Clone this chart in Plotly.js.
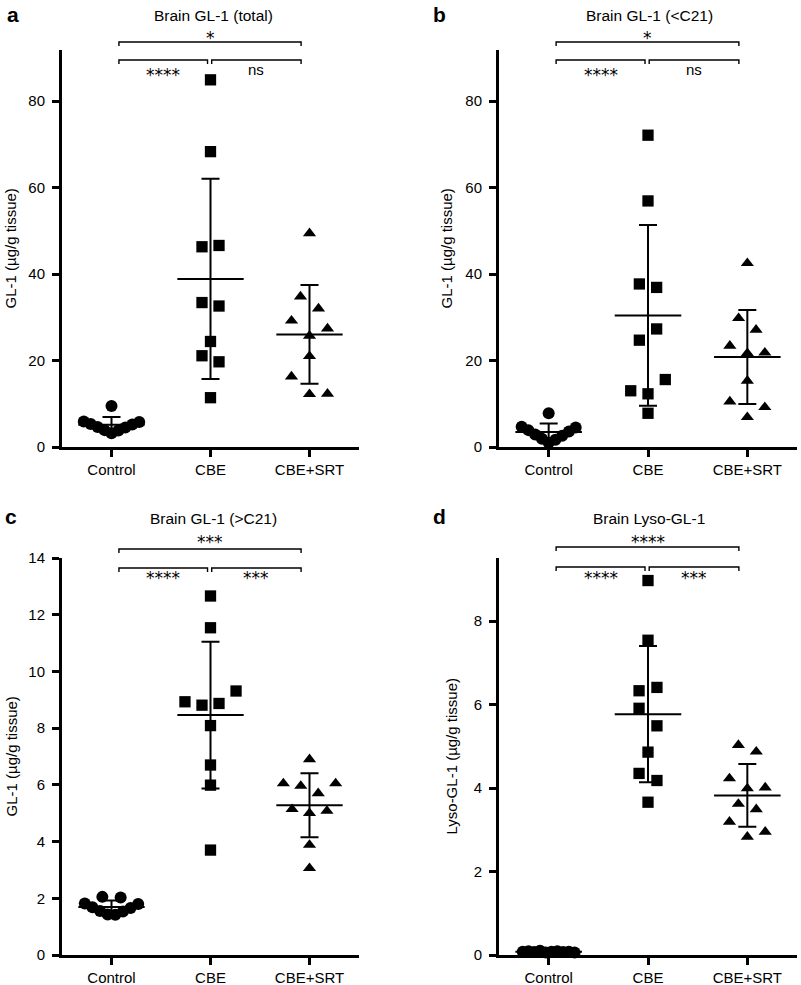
<!DOCTYPE html>
<html>
<head>
<meta charset="utf-8">
<script src="https://cdn.plot.ly/plotly-3.0.1.min.js"></script>
<style>html,body{margin:0;padding:0;background:#fff;}</style>
</head>
<body>
<div id="chart" style="width:801px;height:985px;"></div>
<script>
// ---------------- DATA ----------------
const categories = ['Control', 'CBE', 'CBE+SRT'];
const panelTitles = ['Brain GL-1 (total)', 'Brain GL-1 (&lt;C21)', 'Brain GL-1 (&gt;C21)', 'Brain Lyso-GL-1'];
const panelLetters = ['a', 'b', 'c', 'd'];
const yTitles = ['GL-1 (µg/g tissue)', 'GL-1 (µg/g tissue)', 'GL-1 (µg/g tissue)', 'Lyso-GL-1 (µg/g tissue)'];

// a: Brain GL-1 (total), µg/g tissue
const totalControl = [9.5, 5.9, 5.3, 4.6, 3.9, 3.2, 3.8, 4.5, 5.2, 5.8];
const totalCBE     = [84.9, 68.3, 46.3, 46.6, 33.4, 32.6, 24.4, 21.1, 19.7, 11.4];
const totalCBESRT  = [49.4, 34.8, 32.0, 29.2, 27.4, 25.7, 21.0, 16.3, 12.2, 12.3];
// b: Brain GL-1 (<C21)
const shortControl = [7.8, 4.7, 3.9, 2.9, 1.9, 1.0, 1.7, 2.6, 3.6, 4.5];
const shortCBE     = [72.1, 56.9, 37.7, 36.9, 27.3, 24.7, 15.6, 13.0, 12.3, 7.8];
const shortCBESRT  = [42.5, 29.8, 27.1, 23.4, 21.7, 21.8, 15.3, 10.5, 9.2, 6.9];
// c: Brain GL-1 (>C21)
const longControl  = [2.05, 2.03, 1.82, 1.68, 1.55, 1.43, 1.42, 1.53, 1.66, 1.80];
const longCBE      = [12.66, 11.54, 9.31, 8.93, 8.87, 8.81, 8.09, 6.70, 5.99, 3.70];
const longCBESRT   = [6.90, 6.05, 5.96, 6.05, 5.70, 5.14, 5.00, 5.08, 3.88, 3.06];
// d: Brain Lyso-GL-1
const lysoControl  = [0.08, 0.09, 0.07, 0.10, 0.06, 0.08, 0.09, 0.07, 0.08, 0.06];
const lysoCBE      = [8.97, 7.54, 6.33, 6.41, 5.91, 5.49, 4.86, 4.35, 4.18, 3.66];
const lysoCBESRT   = [5.03, 4.87, 4.23, 3.99, 4.01, 3.62, 3.49, 3.19, 2.83, 2.95];

// significance labels for comparisons: [Control vs CBE, CBE vs CBE+SRT, Control vs CBE+SRT]
const sigTotal = ['****', 'ns', '*'];
const sigShort = ['****', 'ns', '*'];
const sigLong  = ['****', '***', '***'];
const sigLyso  = ['****', '***', '****'];
const comparisons = [[0, 1], [1, 2], [0, 2]];

// y tick settings
const yRanges = [[0, 91.8], [0, 91.8], [0, 14], [0, 9.51]];
const yDticks = [20, 20, 2, 2];

// ---------------- LAYOUT / STYLE (scatter-dot horizontal spread slots) ----------------
const spreadTotal = [[0,-4,-3,-2,-1,0,1,2,3,4], [0,0,-1,1,-1,1,0,-1,1,0], [0,-1,1,-2,2,0,0,-2,0,2]];
const spreadShort = [[0,-4,-3,-2,-1,0,1,2,3,4], [0,0,-1,1,1,-1,2,-2,0,0], [0,-1,1,-2,0,2,0,-2,2,0]];
const spreadLong  = [[-1.2,1.2,-3.5,-2.5,-1.5,-0.5,0.5,1.5,2.5,3.5], [0,0,3,-3,1,-1,0,0,0,0], [0,-3,-1,3,1,-2,0,2,0,0]];
const spreadLyso  = [[-4.5,-3.5,-2.5,-1.5,-0.5,0.5,1.5,2.5,3.5,4.5], [0,0,-1,1,-1,1,0,-1,1,0], [-1,1,-2,0,2,-1,1,-2,0,2]];
const spreadSteps = [[0.07,0.086,0.091], [0.068,0.087,0.088], [0.077,0.086,0.088], [0.058,0.09,0.09]];

const W = 801, H = 985;
const FONT = '"Liberation Sans", Arial, Helvetica, sans-serif';
const STARFONT = '"DejaVu Sans", sans-serif';
const symbols = ['circle', 'square', 'triangle-up'];
const markerSizes = [12, 11.3, 11.5];

const panels = [
  {groups:[totalControl,totalCBE,totalCBESRT], spread:spreadTotal, sig:sigTotal,
   x0:62, x1:359, yt:50, yb:447, brTop:42, brLow:60, txTop:33, txLow:70, ytX:10, letX:13, letY:14.5, titX:213.5, titY:15},
  {groups:[shortControl,shortCBE,shortCBESRT], spread:spreadShort, sig:sigShort,
   x0:499, x1:797, yt:50, yb:447, brTop:42, brLow:60, txTop:33, txLow:70, ytX:446, letX:439, letY:14.5, titX:649, titY:15},
  {groups:[longControl,longCBE,longCBESRT], spread:spreadLong, sig:sigLong,
   x0:62, x1:359, yt:558, yb:955, brTop:549, brLow:568, txTop:537, txLow:573, ytX:11, letX:11, letY:516.7, titX:213.5, titY:518.5},
  {groups:[lysoControl,lysoCBE,lysoCBESRT], spread:spreadLyso, sig:sigLyso,
   x0:499, x1:797, yt:558, yb:955, brTop:547, brLow:567, txTop:537, txLow:573, ytX:451, letX:439, letY:516.7, titX:649, titY:518.5}
];

function mean(a){ return a.reduce((s,v)=>s+v,0)/a.length; }
function sd(a){ const m = mean(a); return Math.sqrt(a.reduce((s,v)=>s+(v-m)*(v-m),0)/(a.length-1)); }
const py = v => 1 - v / H;
const px = v => v / W;

const traces = [];
const shapes = [];
const annotations = [];
const layout = {
  width: W, height: H,
  margin: {l:0, r:0, t:0, b:0},
  paper_bgcolor: '#fff', plot_bgcolor: '#fff',
  showlegend: false,
  font: {family: FONT, size: 15, color: '#000'}
};

panels.forEach((p, k) => {
  const xid = 'x' + (k ? k + 1 : '');
  const yid = 'y' + (k ? k + 1 : '');
  const xkey = 'xaxis' + (k ? k + 1 : '');
  const ykey = 'yaxis' + (k ? k + 1 : '');

  layout[xkey] = {
    domain: [px(p.x0), px(p.x1)], anchor: yid, range: [-0.5, 2.5],
    tickmode: 'array', tickvals: [0, 1, 2], ticktext: categories,
    showline: true, linewidth: 3, linecolor: '#000',
    ticks: 'outside', ticklen: 7, tickwidth: 3, tickcolor: '#000',
    showgrid: false, zeroline: false, fixedrange: true,
    tickfont: {family: FONT, size: 15, color: '#000'}
  };
  layout[ykey] = {
    domain: [py(p.yb), py(p.yt)], anchor: xid, range: yRanges[k],
    tick0: 0, dtick: yDticks[k],
    showline: true, linewidth: 3, linecolor: '#000',
    ticks: 'outside', ticklen: 7, tickwidth: 3, tickcolor: '#000',
    ticklabelstandoff: 4,
    showgrid: false, zeroline: false, fixedrange: true,
    tickfont: {family: FONT, size: 15, color: '#000'}
  };

  // points
  p.groups.forEach((vals, g) => {
    const step = spreadSteps[k][g];
    traces.push({
      type: 'scatter', mode: 'markers', xaxis: xid, yaxis: yid,
      x: vals.map((v, i) => g + p.spread[g][i] * step),
      y: vals,
      cliponaxis: false,
      marker: {symbol: symbols[g], size: markerSizes[g], color: '#000', line: {width: 0}},
      hoverinfo: 'y'
    });
  });

  // mean lines
  const mx = [], my = [];
  p.groups.forEach((vals, g) => {
    const m = mean(vals);
    mx.push(g - 0.335, g + 0.335, null);
    my.push(m, m, null);
  });
  traces.push({type:'scatter', mode:'lines', xaxis: xid, yaxis: yid, x: mx, y: my,
    line: {color:'#000', width: 2}, hoverinfo:'skip', cliponaxis:false});

  // SD error bars
  traces.push({type:'scatter', mode:'markers', xaxis: xid, yaxis: yid,
    x: [0, 1, 2], y: p.groups.map(mean),
    marker: {size: 1, color: 'rgba(0,0,0,0)'},
    error_y: {type:'data', array: p.groups.map(sd), visible: true, symmetric: true,
      color:'#000', thickness: 2, width: 9},
    cliponaxis: false, hoverinfo:'skip'});

  // significance brackets
  comparisons.forEach((c, j) => {
    const isTop = j === 2;
    const yb = isTop ? p.brTop : p.brLow;
    const insetL = c[0] === 0 ? 0.075 : 0.012;
    const insetR = c[1] === 1 ? 0.03 : 0.085;
    const xa = c[0] + insetL, xb = c[1] - insetR;
    const y0 = py(yb), y1 = py(yb + 4);
    shapes.push({type:'path', xref: xid, yref:'paper',
      path: `M${xa},${y1} L${xa},${y0} L${xb},${y0} L${xb},${y1}`,
      line: {color:'#000', width: 1.4}});
    const txt = p.sig[j];
    const isStar = txt.indexOf('*') >= 0;
    const target = isTop ? p.txTop : p.txLow;
    const yc = isStar ? target + 5 : target - 0.5;
    annotations.push({xref: xid, yref:'paper', x: (xa + xb) / 2, y: py(yc),
      xanchor:'center', yanchor:'middle', showarrow:false, text: txt,
      font: {family: isStar ? STARFONT : FONT, size: isStar ? 17 : 15, color:'#000'}});
  });

  // titles, letters, y titles
  annotations.push({xref:'paper', yref:'paper', x: px(p.titX), y: py(p.titY), xanchor:'center', yanchor:'middle',
    showarrow:false, text: panelTitles[k], font:{family: FONT, size: 15.5, color:'#000'}});
  annotations.push({xref:'paper', yref:'paper', x: px(p.letX), y: py(p.letY), xanchor:'center', yanchor:'middle',
    showarrow:false, text: '<b>' + panelLetters[k] + '</b>', font:{family: FONT, size: 21, color:'#000'}});
  annotations.push({xref:'paper', yref:'paper', x: px(p.ytX), y: py((p.yt + p.yb) / 2), xanchor:'center', yanchor:'middle',
    showarrow:false, textangle: -90, text: yTitles[k], font:{family: FONT, size: 15, color:'#000'}});
});

layout.shapes = shapes;
layout.annotations = annotations;

Plotly.newPlot('chart', traces, layout, {staticPlot: true, displayModeBar: false});
</script>
</body>
</html>
